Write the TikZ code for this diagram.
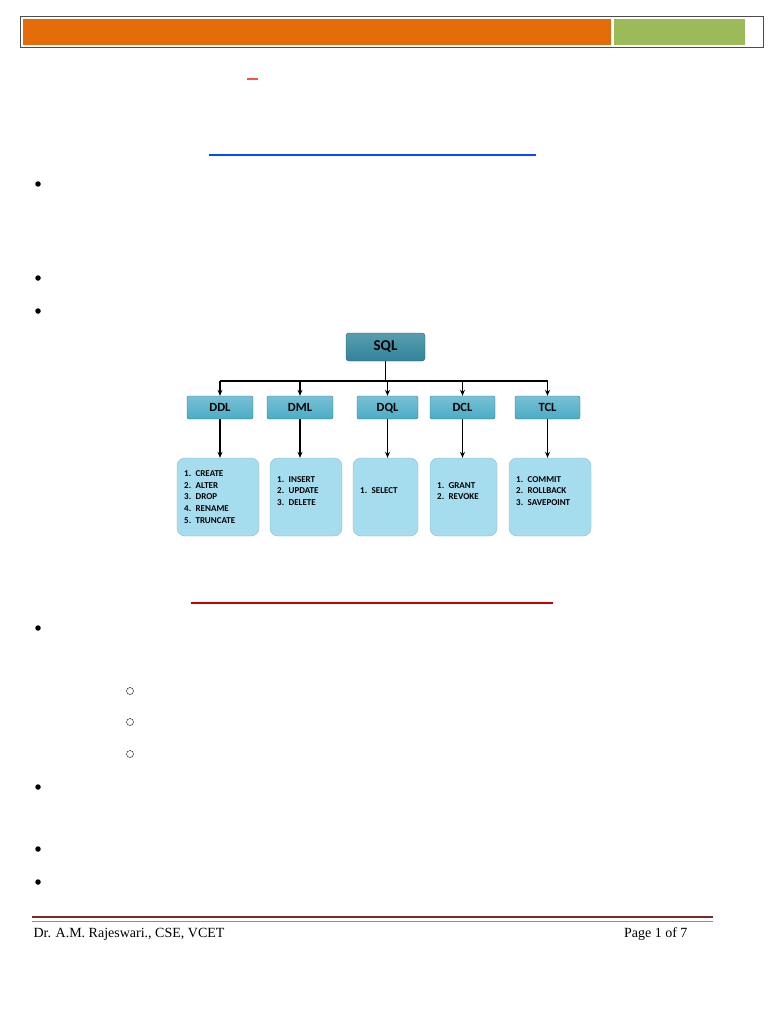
\documentclass[tikz,border=0pt]{standalone}
\usepackage{fontspec}
\setmainfont{Liberation Serif}
\newfontfamily\boxfont{Carlito}
\usetikzlibrary{positioning, arrows.meta}
\definecolor{hdrorange}{HTML}{E36C09}
\definecolor{hdrgreen}{HTML}{9BBB59}
\definecolor{sqlteal}{HTML}{31849B}
\definecolor{catblue}{HTML}{4BACC6}
\definecolor{leafblue}{HTML}{A5DCEE}
\definecolor{footred}{HTML}{772C2A}
\tikzset{
  top/.style={draw=sqlteal!70!black, rounded corners=3pt, top color=sqlteal!80, bottom color=sqlteal,
    minimum width=79pt, minimum height=28pt, font=\boxfont\bfseries\fontsize{15}{15}\selectfont},
  cat/.style={draw=catblue!70!black, rounded corners=2pt, top color=catblue!75, bottom color=catblue,
    minimum height=23pt, text height=8.5pt, text depth=1.5pt, font=\boxfont\bfseries\fontsize{12.5}{12.5}\selectfont},
  leaf/.style={draw=leafblue!60!gray, rounded corners=8pt, fill=leafblue, minimum height=78pt},
  items/.style={align=left, inner sep=0pt, font=\boxfont\bfseries\fontsize{9}{11.7}\selectfont},
  link/.style={-{Stealth[length=6pt,width=5pt]}, line width=1.2pt},
  bullet/.style={circle, fill=black, inner sep=0pt, minimum size=5.5pt},
  ring/.style={circle, draw=black, inner sep=0pt, minimum size=7pt}
}
\begin{document}
\begin{tikzpicture}[x=1pt, y=-1pt]
\useasboundingbox (0,0) rectangle (768,1024);
% header bar
\draw[line width=1pt, draw=black!70] (20,17) rectangle (763,48);
\fill[hdrorange] (23,19) rectangle (611,45);
\fill[hdrgreen] (614,19) rectangle (745,45);
\fill[red!70] (247,78) rectangle (258,80);
% rules
\draw[line width=2pt, draw=blue!70!cyan] (209,155) -- (536,155);
\draw[line width=1.5pt, draw=red!80!black] (191,603) -- (553,603);
% bullets
\foreach \y in {184,278,311,628,787,849,882}
  \node[bullet] at (38,\y) {};
\foreach \y in {691,722,754}
  \node[ring] at (130,\y) {};
% diagram
\node[top] (sql) at (385.5,347) {SQL};
\node[cat, minimum width=66pt] (ddl) at (220,407.5) {DDL};
\node[cat, minimum width=66pt] (dml) at (300,407.5) {DML};
\node[cat, minimum width=61pt] (dql) at (387.5,407.5) {DQL};
\node[cat, minimum width=65pt] (dcl) at (462.5,407.5) {DCL};
\node[cat, minimum width=65pt] (tcl) at (547.5,407.5) {TCL};
\node[leaf, minimum width=82pt] (ddlcmd) at (218,497) {};
\node[leaf, minimum width=72pt] (dmlcmd) at (306,497) {};
\node[leaf, minimum width=65pt] (dqlcmd) at (385.5,497) {};
\node[leaf, minimum width=67pt] (dclcmd) at (463.5,497) {};
\node[leaf, minimum width=82pt] (tclcmd) at (550,497) {};
\node[items, anchor=west] at (184,497) {1.\enspace CREATE\\2.\enspace ALTER\\3.\enspace DROP\\4.\enspace RENAME\\5.\enspace TRUNCATE};
\node[items, anchor=west] at (277,491) {1.\enspace INSERT\\2.\enspace UPDATE\\3.\enspace DELETE};
\node[items, anchor=west] at (360,491) {1.\enspace SELECT};
\node[items, anchor=west] at (437,491) {1.\enspace GRANT\\2.\enspace REVOKE};
\node[items, anchor=west] at (516,491) {1.\enspace COMMIT\\2.\enspace ROLLBACK\\3.\enspace SAVEPOINT};
\coordinate (bus) at (385.5,381);
\draw[line width=1.2pt] (sql) -- (bus);
\draw[line width=1.2pt] (ddl.north |- bus) -- (tcl.north |- bus);
\foreach \c in {ddl,dml,dql,dcl,tcl}
  \draw[link] (\c.north |- bus) -- (\c.north);
\draw[link] (ddl) -- (ddlcmd.north -| ddl);
\draw[link] (dml) -- (dmlcmd.north -| dml);
\draw[link] (dql) -- (dqlcmd.north -| dql);
\draw[link] (dcl) -- (dclcmd.north -| dcl);
\draw[link] (tcl) -- (tclcmd.north -| tcl);
% footer
\draw[line width=2.5pt, draw=footred] (32,917) -- (713,917);
\draw[line width=0.6pt, draw=footred!60] (32,921) -- (713,921);
\node[anchor=west, font=\fontsize{14}{14}\selectfont] (author) at (30,934) {Dr. A.M. Rajeswari., CSE, VCET};
\node[anchor=east, font=\fontsize{14}{14}\selectfont] (page) at (691,934) {Page 1 of 7};
\end{tikzpicture}
\end{document}
